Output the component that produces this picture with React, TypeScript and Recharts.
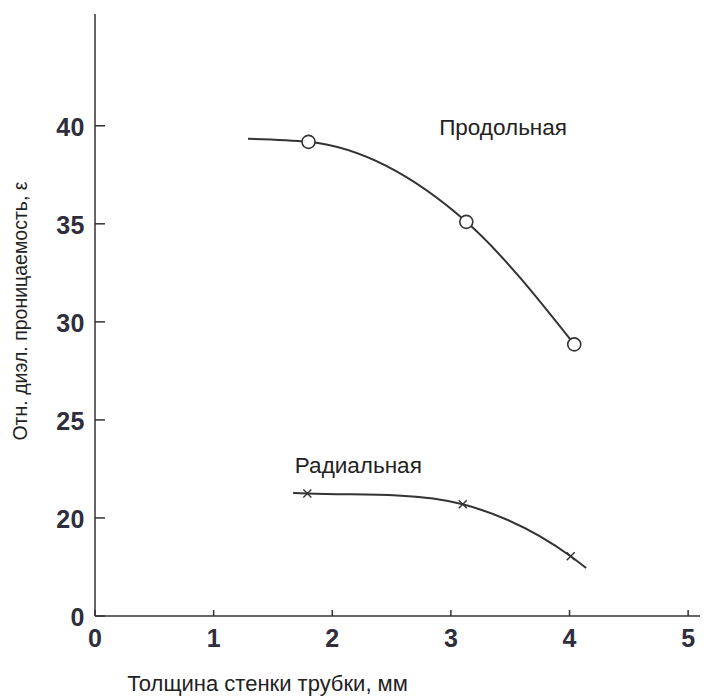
import React from "react";
import {
  ComposedChart,
  Line,
  Scatter,
  XAxis,
  YAxis,
  ReferenceDot,
} from "recharts";

// X axis: wall thickness, mm; Y axis: relative permittivity (axis broken below 20: the bottom tick is labelled 0)
const xTicks = [0, 1, 2, 3, 4, 5];
const yTicks = [15, 20, 25, 30, 35, 40];
const yTickLabels = ["0", "20", "25", "30", "35", "40"];

// "Продольная" (longitudinal) curve and measured points
const longCurveX = [1.29, 1.8, 3.13, 4.04];
const longCurveY = [39.34, 39.18, 35.1, 28.85];
const longPointX = [1.8, 3.13, 4.04];
const longPointY = [39.18, 35.1, 28.85];

// "Радиальная" (radial) curve and measured points
const radCurveX = [1.67, 1.79, 2.55, 3.1, 4.01, 4.14];
const radCurveY = [21.28, 21.25, 21.15, 20.7, 18.05, 17.45];
const radPointX = [1.79, 3.1, 4.01];
const radPointY = [21.25, 20.7, 18.05];

const longLabel = { name: "Продольная", x: 3.44, y: 39.95 };
const radLabel = { name: "Радиальная", x: 2.22, y: 22.7 };

const zip = (xs: number[], ys: number[]) => xs.map((x, i) => ({ x, y: ys[i] }));

const longCurve = zip(longCurveX, longCurveY);
const longPoints = zip(longPointX, longPointY);
const radCurve = zip(radCurveX, radCurveY);
const radPoints = zip(radPointX, radPointY);

const FONT = "'Liberation Sans', Arial, sans-serif";
const INK = "#333";

const YTick = (props: any) => {
  const { x, y, payload } = props;
  const idx = yTicks.indexOf(payload.value);
  return (
    <g>
      <line x1={x} x2={x + 10} y1={y} y2={y} stroke={INK} strokeWidth={1.5} />
      <text
        x={x - 10}
        y={y + 1}
        dy="0.36em"
        textAnchor="end"
        fontFamily={FONT}
        fontSize={25}
        fontWeight="bold"
        fill="#2e2e3c"
        letterSpacing={0.5}
      >
        {idx >= 0 ? yTickLabels[idx] : payload.value}
      </text>
    </g>
  );
};

const XTick = (props: any) => {
  const { x, y, payload } = props;
  return (
    <g>
      <line x1={x} x2={x} y1={y} y2={y - 6} stroke={INK} strokeWidth={1.5} />
      <text
        x={x}
        y={y + 22}
        dy="0.36em"
        textAnchor="middle"
        fontFamily={FONT}
        fontSize={25}
        fontWeight="bold"
        fill="#2e2e3c"
      >
        {payload.value}
      </text>
    </g>
  );
};

const CircleMark = (props: any) => {
  const { cx, cy } = props;
  if (cx == null || cy == null) return null;
  return <circle cx={cx} cy={cy} r={6.5} fill="#fff" stroke={INK} strokeWidth={1.6} />;
};

const CrossMark = (props: any) => {
  const { cx, cy } = props;
  if (cx == null || cy == null) return null;
  const s = 4;
  return (
    <g stroke={INK} strokeWidth={1.4}>
      <line x1={cx - s} y1={cy - s} x2={cx + s} y2={cy + s} />
      <line x1={cx - s} y1={cy + s} x2={cx + s} y2={cy - s} />
    </g>
  );
};

export default function App() {
  return (
    <div style={{ position: "absolute", left: 0, top: 0, background: "#fff" }}>
      <ComposedChart
        width={704}
        height={698}
        margin={{ top: 14, right: 4, left: 0, bottom: 52 }}
      >
        <XAxis
          dataKey="x"
          type="number"
          domain={[0, 5.1]}
          ticks={xTicks}
          allowDataOverflow
          height={30}
          tickSize={0}
          tickMargin={0}
          tickLine={false}
          tick={<XTick />}
          axisLine={{ stroke: INK, strokeWidth: 1.5 }}
          label={{
            value: "Толщина стенки трубки, мм",
            position: "bottom",
            offset: 29,
            dx: -130,
            style: { fontFamily: FONT, fontSize: 22, fill: "#222" },
          }}
        />
        <YAxis
          dataKey="y"
          type="number"
          domain={[15, 45.7]}
          ticks={yTicks}
          allowDataOverflow
          width={95}
          tickSize={0}
          tickMargin={0}
          tickLine={false}
          tick={<YTick />}
          axisLine={{ stroke: INK, strokeWidth: 1.5 }}
          label={{
            value: "Отн. диэл. проницаемость, ε",
            angle: -90,
            position: "insideLeft",
            offset: 20,
            dy: -4,
            style: { fontFamily: FONT, fontSize: 19.5, fill: "#222", textAnchor: "middle" },
          }}
        />
        <Line
          data={longCurve}
          dataKey="y"
          type="monotone"
          stroke={INK}
          strokeWidth={2}
          dot={false}
          activeDot={false}
          isAnimationActive={false}
        />
        <Line
          data={radCurve}
          dataKey="y"
          type="monotone"
          stroke={INK}
          strokeWidth={2}
          dot={false}
          activeDot={false}
          isAnimationActive={false}
        />
        <Scatter data={longPoints} dataKey="y" shape={<CircleMark />} isAnimationActive={false} />
        <Scatter data={radPoints} dataKey="y" shape={<CrossMark />} isAnimationActive={false} />
        <ReferenceDot
          x={longLabel.x}
          y={longLabel.y}
          r={1}
          fillOpacity={0}
          stroke="none"
          label={{
            value: longLabel.name,
            position: "center",
            style: { fontFamily: FONT, fontSize: 22.5, fill: "#222" },
          }}
        />
        <ReferenceDot
          x={radLabel.x}
          y={radLabel.y}
          r={1}
          fillOpacity={0}
          stroke="none"
          label={{
            value: radLabel.name,
            position: "center",
            style: { fontFamily: FONT, fontSize: 22.5, fill: "#222" },
          }}
        />
      </ComposedChart>
    </div>
  );
}
